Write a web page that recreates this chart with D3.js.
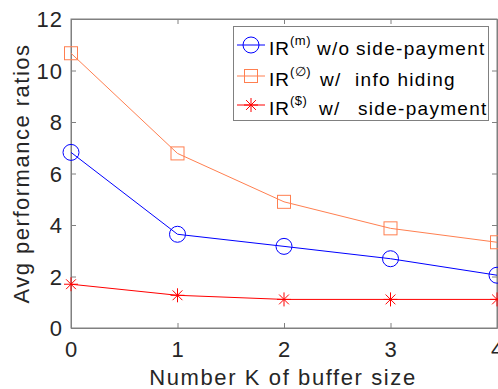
<!DOCTYPE html>
<html><head><meta charset="utf-8">
<script src="https://cdn.jsdelivr.net/npm/d3@7"></script>
<style>body{margin:0;background:#fff}svg{display:block;font-family:"Liberation Sans",Arial,Helvetica,sans-serif}</style>
</head><body><svg id="c" width="498" height="389"></svg>
<script>
const kValues = [0, 1, 2, 3, 4];
const irM = [6.82, 3.64, 3.17, 2.69, 2.05];
const irHide = [10.67, 6.78, 4.90, 3.87, 3.33];
const irPay = [1.70, 1.27, 1.11, 1.11, 1.11];
const xTicks = [0, 1, 2, 3, 4];
const yTicks = [0, 2, 4, 6, 8, 10, 12];
const legendSup = ["(m)", "(\u2205)", "($)"];
const legendMid = ["w/o", "w/", "w/"];
const legendTail = ["side-payment", "info hiding", "side-payment"];

const svg = d3.select("#c");
const L = 71, R = 497, T = 19, B = 328;
const x = d3.scaleLinear().domain([0, 4]).range([L, R]);
const y = d3.scaleLinear().domain([0, 12]).range([B, T]);
const axisColor = "#808080", textColor = "#262626";

// box
svg.append("rect").attr("x", L).attr("y", T).attr("width", R - L).attr("height", B - T)
  .attr("fill", "none").attr("stroke", axisColor).attr("stroke-width", 1);

// axes
const gx = svg.append("g").attr("transform", `translate(0,${B})`)
  .call(d3.axisBottom(x).tickValues(xTicks).tickSizeInner(-5).tickSizeOuter(0).tickPadding(13).tickFormat(d3.format("d")));
const gy = svg.append("g").attr("transform", `translate(${L},0)`)
  .call(d3.axisLeft(y).tickValues(yTicks).tickSizeInner(-5).tickSizeOuter(0).tickPadding(8).tickFormat(d3.format("d")));
const gxt = svg.append("g").attr("transform", `translate(0,${T})`)
  .call(d3.axisTop(x).tickValues(xTicks).tickSizeInner(-5).tickSizeOuter(0).tickFormat(""));
const gyr = svg.append("g").attr("transform", `translate(${R},0)`)
  .call(d3.axisRight(y).tickValues(yTicks).tickSizeInner(-5).tickSizeOuter(0).tickFormat(""));
[gx, gy, gxt, gyr].forEach(g => {
  g.select(".domain").attr("stroke", axisColor);
  g.selectAll(".tick line").attr("stroke", axisColor);
  g.selectAll(".tick text").attr("fill", textColor).attr("font-size", 22).attr("letter-spacing", 1)
    .attr("font-family", "Liberation Sans, Arial, sans-serif");
});
gy.selectAll(".tick text").attr("dy", "0.36em");

// titles
svg.append("text").attr("x", (L + R) / 2 - 1).attr("y", 385).attr("text-anchor", "middle")
  .attr("font-size", 22).attr("letter-spacing", 1.6).attr("fill", textColor).text("Number K of buffer size");
svg.append("text").attr("transform", `translate(29,${(T + B) / 2}) rotate(-90)`).attr("text-anchor", "middle")
  .attr("font-size", 22).attr("letter-spacing", 1.5).attr("fill", textColor).text("Avg performance ratios");

const series = [
  {vals: irM, color: "#0000ff", marker: "circle"},
  {vals: irHide, color: "#ff7f50", marker: "square"},
  {vals: irPay, color: "#ff0000", marker: "star"}
];
const line = d3.line().x((d, i) => x(kValues[i])).y(d => y(d));

function drawMarker(g, cx, cy, type, color) {
  if (type === "circle") {
    g.append("circle").attr("cx", cx).attr("cy", cy).attr("r", 8)
      .attr("fill", "none").attr("stroke", color).attr("stroke-width", 1);
  } else if (type === "square") {
    g.append("rect").attr("x", cx - 6.5).attr("y", cy - 6.5).attr("width", 13).attr("height", 13)
      .attr("fill", "none").attr("stroke", color).attr("stroke-width", 1);
  } else {
    const s = 7;
    const p = `M${cx - s},${cy}L${cx + s},${cy}M${cx},${cy - s}L${cx},${cy + s}` +
      `M${cx - s * 0.7},${cy - s * 0.7}L${cx + s * 0.7},${cy + s * 0.7}M${cx - s * 0.7},${cy + s * 0.7}L${cx + s * 0.7},${cy - s * 0.7}`;
    g.append("path").attr("d", p).attr("stroke", color).attr("stroke-width", 1).attr("fill", "none");
  }
}

series.forEach(s => {
  const g = svg.append("g");
  g.append("path").datum(s.vals).attr("d", line).attr("fill", "none").attr("stroke", s.color).attr("stroke-width", 1);
  s.vals.forEach((v, i) => drawMarker(g, x(kValues[i]), y(v), s.marker, s.color));
});

// legend
const lg = svg.append("g");
lg.append("rect").attr("x", 233.5).attr("y", 26.5).attr("width", 255).attr("height", 94)
  .attr("fill", "#fff").attr("stroke", axisColor).attr("stroke-width", 1);
const rowsY = [45, 76, 105];
const midX = [317, 320, 319];
const tailX = [356, 355, 358];
series.forEach((s, i) => {
  const yy = rowsY[i];
  lg.append("line").attr("x1", 237).attr("x2", 265).attr("y1", yy).attr("y2", yy).attr("stroke", s.color).attr("stroke-width", 1);
  drawMarker(lg, 251, yy, s.marker, s.color);
  const t = lg.append("text").attr("x", 269).attr("y", yy + 10).attr("font-size", 19).attr("fill", "#000")
    .attr("letter-spacing", 1);
  t.append("tspan").text("IR");
  t.append("tspan").attr("font-size", 13).attr("dy", -10).attr("letter-spacing", 0.5).text(legendSup[i]);
  lg.append("text").attr("x", midX[i]).attr("y", yy + 10).attr("font-size", 19).attr("fill", "#000")
    .attr("letter-spacing", 1.2).text(legendMid[i]);
  lg.append("text").attr("x", tailX[i]).attr("y", yy + 10).attr("font-size", 19).attr("fill", "#000")
    .attr("letter-spacing", 1.3).text(legendTail[i]);
});
</script></body></html>
